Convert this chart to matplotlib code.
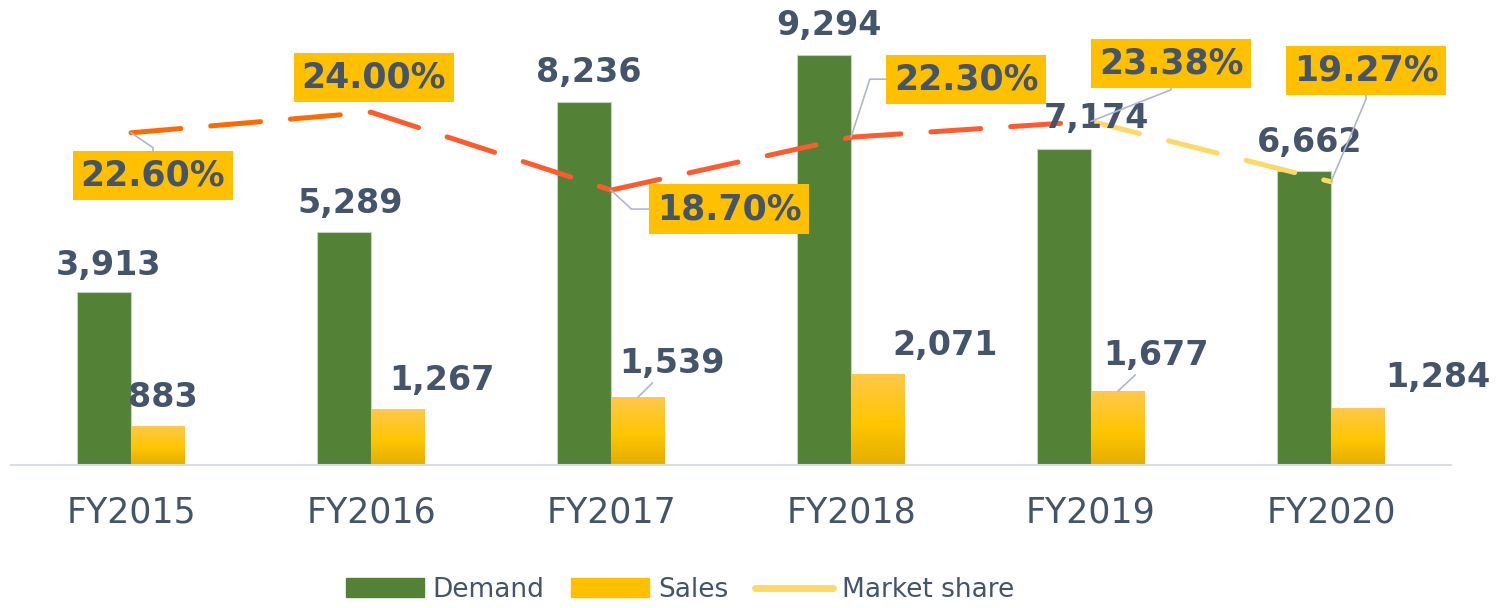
import matplotlib
matplotlib.use("Agg")
import matplotlib.pyplot as plt
import numpy as np
from matplotlib.colors import LinearSegmentedColormap
from matplotlib.patches import Patch
from matplotlib.lines import Line2D

years = ["FY2015", "FY2016", "FY2017", "FY2018", "FY2019", "FY2020"]
demand = [3913, 5289, 8236, 9294, 7174, 6662]
sales = [883, 1267, 1539, 2071, 1677, 1284]
share = [22.60, 24.00, 18.70, 22.30, 23.38, 19.27]

text_col = "#44546A"
green = "#538135"
leader_col = "#ADB9CA"
seg_colors = ["#FF6A00", "#FF5B2E", "#FF5B2E", "#FF5B2E", "#FFD966"]

# label offsets in pixels from the bar top / line point
demand_off = [(4, 17), (6, 19), (5, 20), (5, 20), (32, 21), (6, 19)]
sales_off = [(5, 19), (44, 19), (34, 24), (67, 19), (38, 26), (80, 21)]
sales_leader = [False, False, True, False, True, False]
share_off = [(22, -43), (3, 35), (118, -19), (115, 58), (80, 58), (35, 111)]
share_conn = ["angle,angleA=90,angleB=-34,rad=0", None,
              "angle,angleA=0,angleB=-43,rad=0", "angle,angleA=0,angleB=72,rad=0",
              "angle,angleA=90,angleB=21.5,rad=0", "angle,angleA=90,angleB=67,rad=0"]

x = np.arange(len(years))
w = 0.225

fig = plt.figure(figsize=(14.99, 6.08), dpi=100)
ax = fig.add_axes([11 / 1499, 143 / 608, 1440 / 1499, 441 / 608])

ax.bar(x - w / 2, demand, w, color=green, edgecolor="#C8D3BE", linewidth=0.8)
sbars = ax.bar(x + w / 2, sales, w, color="none", edgecolor="none")

# vertical gradient for the sales bars
cmap = LinearSegmentedColormap.from_list(
    "sales", [(0, "#E3AE00"), (0.45, "#FFC600"), (1, "#FFC84A")])
grad = np.linspace(0, 1, 256).reshape(-1, 1)
for r in sbars:
    im = ax.imshow(grad, cmap=cmap, aspect="auto", origin="lower",
                   extent=[r.get_x(), r.get_x() + r.get_width(), 0, r.get_height()],
                   zorder=2)
    im.set_clip_path(r)

ax.set_xlim(-0.5, 5.5)
ax.set_ylim(0, 10000)
ax.set_xticks(x, years)
ax.tick_params(axis="x", length=0, pad=22, labelsize=25, labelcolor=text_col)
ax.set_yticks([])
for s in ["top", "left", "right"]:
    ax.spines[s].set_visible(False)
ax.spines["bottom"].set_color("#D9DEE6")
ax.spines["bottom"].set_linewidth(1.5)

ax2 = ax.twinx()
ax2.set_ylim(0, 30)
ax2.set_yticks([])
for s in ax2.spines.values():
    s.set_visible(False)

for i in range(len(x) - 1):
    ax2.plot(x[i:i + 2], share[i:i + 2], color=seg_colors[i], lw=3.6,
             linestyle=(0, (10, 6)), dash_capstyle="round")

# value labels (drawn on ax2 so they sit above the line)
for i in range(len(x)):
    ax2.annotate(f"{demand[i]:,}", (x[i] - w / 2, demand[i]), xycoords=ax.transData,
                 xytext=demand_off[i], textcoords="offset pixels",
                 ha="center", va="baseline", fontsize=24, fontweight="bold",
                 color=text_col)
    props = None
    if sales_leader[i]:
        props = dict(arrowstyle="-", color=leader_col, lw=1.2, shrinkA=0, shrinkB=0)
    ax2.annotate(f"{sales[i]:,}", (x[i] + w / 2, sales[i]), xycoords=ax.transData,
                 xytext=sales_off[i], textcoords="offset pixels",
                 ha="center", va="baseline", fontsize=24, fontweight="bold",
                 color=text_col, arrowprops=props)

for i in range(len(x)):
    props = None
    if share_conn[i]:
        props = dict(arrowstyle="-", color=leader_col, lw=1.2, shrinkA=0, shrinkB=0,
                     connectionstyle=share_conn[i])
    ax2.annotate(f"{share[i]:.2f}%", (x[i], share[i]),
                 xytext=share_off[i], textcoords="offset pixels",
                 ha="center", va="center", fontsize=25, fontweight="bold",
                 color=text_col, arrowprops=props,
                 bbox=dict(boxstyle="square,pad=0.22", fc="#FFC000", ec="none"))

handles = [Patch(color=green), Patch(color="#FFC000"),
           Line2D([], [], color="#FFD966", lw=5, solid_capstyle="round")]
fig.legend(handles, ["Demand", "Sales", "Market share"], loc="center",
           bbox_to_anchor=(0.4536, 0.03), ncol=3, frameon=False, fontsize=19,
           labelcolor=text_col, handlelength=2.95, handletextpad=0.35,
           columnspacing=1.0, borderpad=0.2)

fig.savefig("out.png", dpi=100)
